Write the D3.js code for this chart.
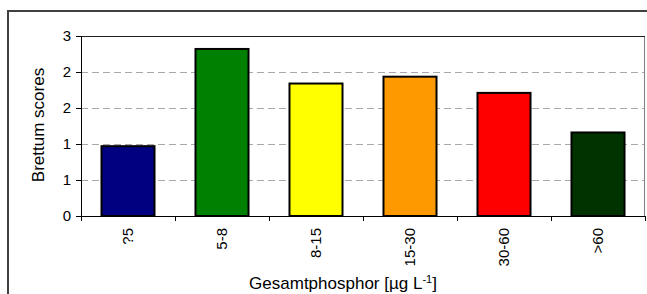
<!DOCTYPE html>
<html>
<head>
<meta charset="utf-8">
<script src="https://cdn.jsdelivr.net/npm/d3@7"></script>
<style>
  body { margin: 0; background: #fff; }
  svg { display: block; font-family: Arial, "Liberation Sans", sans-serif; }
</style>
</head>
<body>
<svg id="chart"></svg>
<script>
const categories = ["?5", "5-8", "8-15", "15-30", "30-60", ">60"];
const scores = [0.97, 2.32, 1.84, 1.935, 1.71, 1.16];
const barColors = ["#000080", "#008000", "#ffff00", "#ff9900", "#ff0000", "#003300"];
const yTicks = [0, 0.5, 1, 1.5, 2, 2.5];
const yTickLabels = ["0", "1", "1", "2", "2", "3"];

const W = 647, H = 294;
const margin = { top: 36, right: 2, bottom: 78, left: 81 },
  width = W - margin.left - margin.right,
  height = H - margin.top - margin.bottom;

const root = d3.select("#chart").attr("width", W).attr("height", H);

// outer chart frame (runs off the right and bottom edge)
root.append("rect")
  .attr("x", 8).attr("y", 11)
  .attr("width", 700).attr("height", 400)
  .attr("fill", "none")
  .attr("stroke", "#404040")
  .attr("stroke-width", 2);

const svg = root.append("g")
  .attr("transform", `translate(${margin.left},${margin.top})`);

const x = d3.scaleBand().domain(categories).range([0, width]).paddingInner(0.436).paddingOuter(0.218);
const y = d3.scaleLinear().domain([0, 2.5]).range([height, 0]);

// gridlines
svg.selectAll(".grid")
  .data(yTicks.filter((d) => d > 0 && d < 2.5))
  .enter()
  .append("line")
  .attr("class", "grid")
  .attr("x1", 0).attr("x2", width)
  .attr("y1", (d) => Math.round(y(d)) + 0.5)
  .attr("y2", (d) => Math.round(y(d)) + 0.5)
  .attr("stroke", "#a8a8a8")
  .attr("stroke-dasharray", "7,4");

// plot area border (top and right)
svg.append("path")
  .attr("d", `M0,0.5H${width - 0.5}V${height}`)
  .attr("fill", "none")
  .attr("stroke", "#808080");
svg.append("line")
  .attr("x1", 0).attr("x2", width)
  .attr("y1", 0.5).attr("y2", 0.5)
  .attr("stroke", "#222");

// bars
svg.selectAll(".bar")
  .data(scores)
  .enter()
  .append("rect")
  .attr("class", "bar")
  .attr("x", (d, i) => x(categories[i]))
  .attr("y", (d) => y(d))
  .attr("width", x.bandwidth())
  .attr("height", (d) => height - y(d))
  .attr("fill", (d, i) => barColors[i])
  .attr("stroke", "#000")
  .attr("stroke-width", 2);

// y axis
const yAxis = svg.append("g")
  .call(d3.axisLeft(y).tickValues(yTicks).tickSize(5).tickPadding(5)
    .tickFormat((d, i) => yTickLabels[i]));
yAxis.select(".domain").attr("stroke", "#000").attr("d", `M0.5,0V${height}`);
yAxis.selectAll("text").style("font-size", "15px").attr("fill", "#000");

// x axis with ticks at category boundaries
const boundaries = d3.range(categories.length + 1).map((i) => i * (width / categories.length));
const xAxis = svg.append("g").attr("transform", `translate(0,${height})`);
xAxis.append("line")
  .attr("x1", 0).attr("x2", width)
  .attr("y1", 0.5).attr("y2", 0.5)
  .attr("stroke", "#000");
xAxis.selectAll(".xtick")
  .data(boundaries)
  .enter()
  .append("line")
  .attr("x1", (d) => Math.round(d) + 0.5).attr("x2", (d) => Math.round(d) + 0.5)
  .attr("y1", 0).attr("y2", 5)
  .attr("stroke", "#000");
xAxis.selectAll(".xlabel")
  .data(categories)
  .enter()
  .append("text")
  .attr("transform", (d) => `translate(${x(d) + x.bandwidth() / 2 + 5},12) rotate(-90)`)
  .attr("text-anchor", "end")
  .style("font-size", "15px")
  .text((d) => d);

// axis titles
root.append("text")
  .attr("transform", `translate(44,${margin.top + height / 2 - 1}) rotate(-90)`)
  .attr("text-anchor", "middle")
  .style("font-size", "17px")
  .text("Brettum scores");

const xt = root.append("text")
  .attr("x", 343).attr("y", 289)
  .attr("text-anchor", "middle")
  .style("font-size", "17px");
xt.append("tspan").text("Gesamtphosphor [µg L");
xt.append("tspan").attr("dy", -6).style("font-size", "11px").text("-1");
xt.append("tspan").attr("dy", 6).text("]");
</script>
</body>
</html>
